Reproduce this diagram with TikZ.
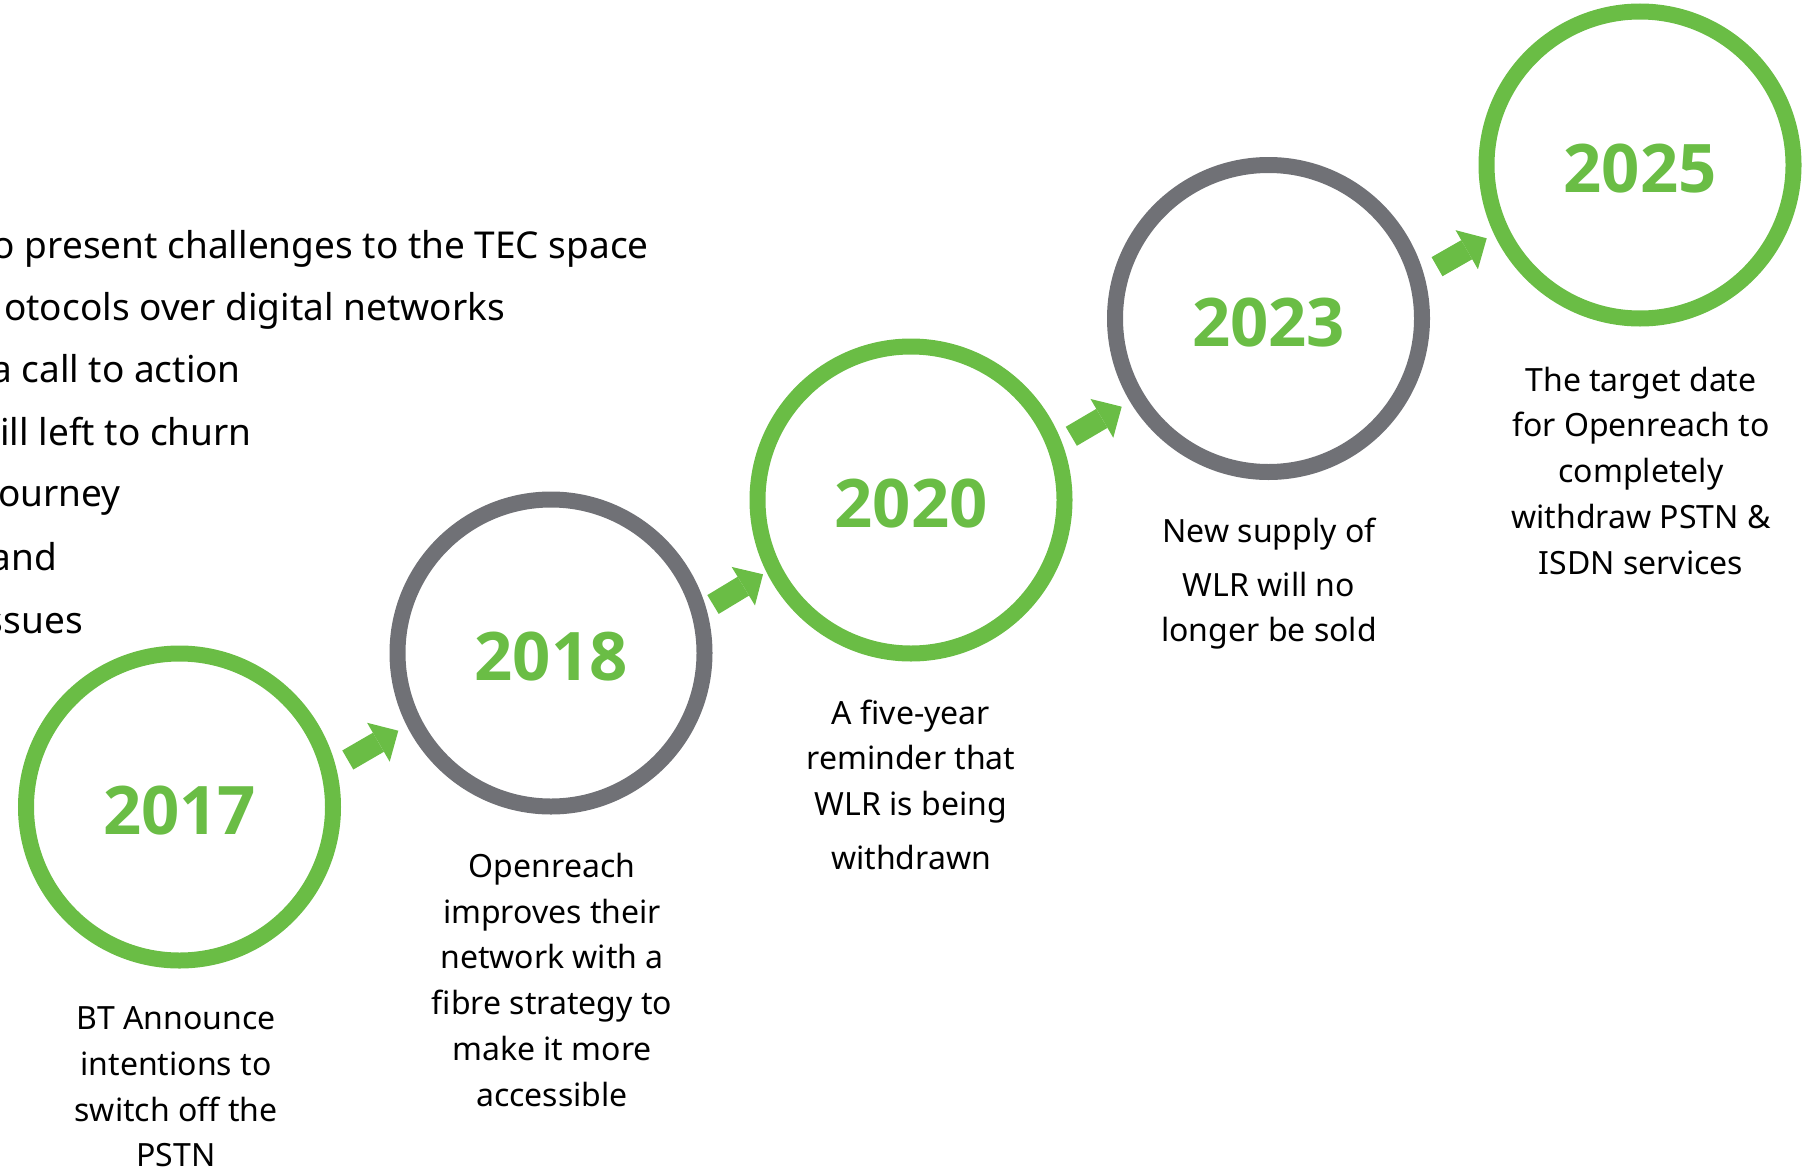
\documentclass[tikz,border=0pt]{standalone}
\usepackage{fontspec}
\setmainfont{Noto Sans}
\newfontfamily\yearfont{Open Sans}
\usepackage{tikz}
\usetikzlibrary{arrows.meta, calc, positioning}
\definecolor{ringgreen}{HTML}{6ABD45}
\definecolor{ringgray}{HTML}{707176}
\tikzstyle{greenring} = [circle, minimum size=307pt, line width=16pt, draw=ringgreen, text=ringgreen, text height=55.5pt, text depth=0pt, font=\yearfont\fontsize{67}{80}\selectfont\bfseries]
\tikzstyle{grayring} = [greenring, draw=ringgray]
\tikzstyle{desc} = [align=center, inner sep=0pt, anchor=base, font=\fontsize{32}{45.7}\selectfont]
\tikzstyle{intro} = [inner sep=0pt, anchor=base east, font=\fontsize{37}{44}\selectfont]
\tikzstyle{arrow} = [line width=22pt, draw=ringgreen, -{Triangle[length=23pt, width=45pt, line width=0pt, fill=ringgreen]}]

\begin{document}
\begin{tikzpicture}[x=1pt, y=-1pt]
	\useasboundingbox (0,0) rectangle (1814,1172);
	\clip (0,0) rectangle (1814,1172);
	
	% Intro text (cut at the left edge)
	\node (line1) [intro] at (649,258.3) {o present challenges to the TEC space};
	\node (line2) [intro] at (505,320) {otocols over digital networks};
	\node (line3) [intro] at (241,382.7) {a call to action};
	\node (line4) [intro] at (252,445) {ill left to churn};
	\node (line5) [intro] at (121,506.7) {ourney};
	\node (line6) [intro] at (57,570) {and};
	\node (line7) [intro] at (83,633.3) {ssues};
	
	% Year circles
	\node (y2017) [greenring] at (179.5,807) {2017};
	\node (y2018) [grayring] at (551,653) {2018};
	\node (y2020) [greenring] at (911,500) {2020};
	\node (y2023) [grayring] at (1268.5,318.5) {2023};
	\node (y2025) [greenring] at (1640,165) {2025};
	
	% Descriptions (placed at the baseline of their last line)
	\node (d2017) [desc] at (176,1166.7) {BT Announce\\intentions to\\switch off the\\PSTN};
	\node (d2018) [desc] at (552,1106) {Openreach\\improves their\\network with a\\fibre strategy to\\make it more\\accessible};
	\node (d2020) [desc] at (911,869.3) {A five-year\\reminder that\\WLR is being\\[8pt]withdrawn};
	\node (d2023) [desc] at (1269,641.7) {New supply of\\[7.5pt]WLR will no\\longer be sold};
	\node (d2025) [desc] at (1641,574) {The target date\\for Openreach to\\completely\\withdraw PSTN \&\\ISDN services};
	
	% Arrow ends
	\coordinate (a1) at ($(y2017)+(168.3,-47)$);
	\coordinate (b1) at ($(y2018)+(-152.7,77.7)$);
	\coordinate (a2) at ($(y2018)+(162,-48.5)$);
	\coordinate (b2) at ($(y2020)+(-148,74.3)$);
	\coordinate (a3) at ($(y2020)+(160.3,-63.7)$);
	\coordinate (b3) at ($(y2023)+(-146.8,88.2)$);
	\coordinate (a4) at ($(y2023)+(168.5,-51.8)$);
	\coordinate (b4) at ($(y2025)+(-153.3,73.3)$);
	
	% Arrows
	\draw [arrow] (a1) -- (b1);
	\draw [arrow] (a2) -- (b2);
	\draw [arrow] (a3) -- (b3);
	\draw [arrow] (a4) -- (b4);
	
\end{tikzpicture}
\end{document}
